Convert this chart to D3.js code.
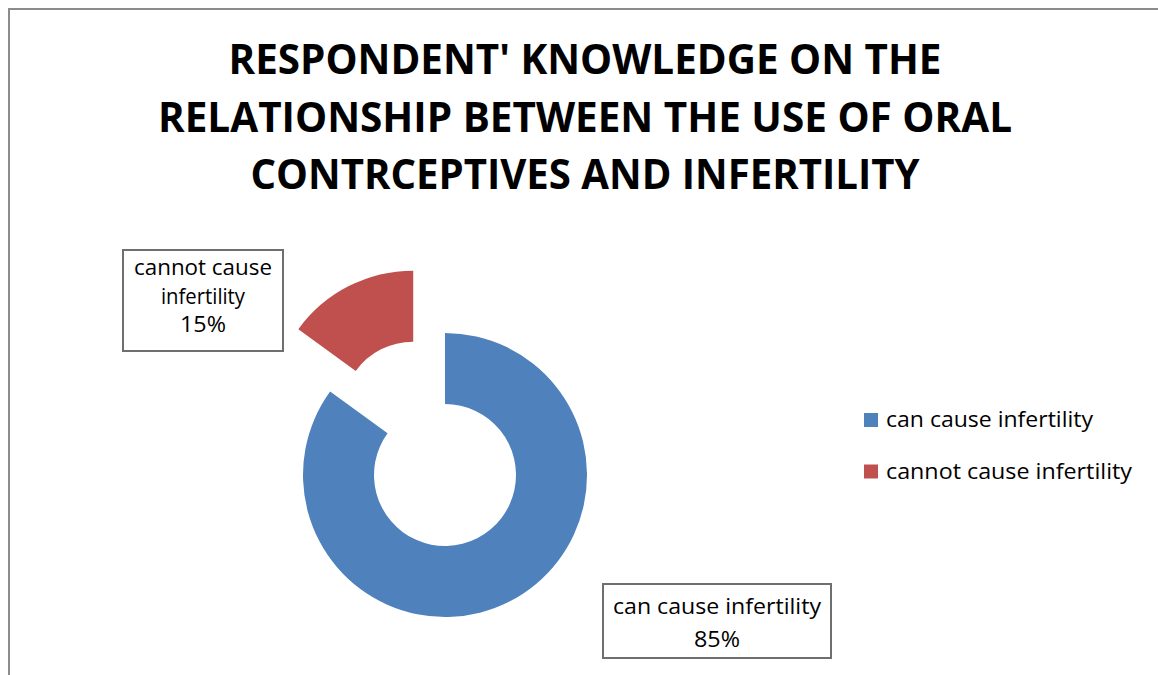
<!DOCTYPE html>
<html>
<head>
  <meta charset="utf-8">
  <script src="https://d3js.org/d3.v7.min.js"></script>
  <style>
    body { margin: 0; background: #fff; }
    text { font-family: "Open Sans", sans-serif; fill: #000; }
  </style>
</head>
<body>
<script>
// chart data
var categories = ["can cause infertility", "cannot cause infertility"];
var values = [85, 15];
var colors = ["#4F81BD", "#C0504D"];
var titleLines = ["RESPONDENT' KNOWLEDGE ON THE",
                  "RELATIONSHIP BETWEEN THE USE OF ORAL",
                  "CONTRCEPTIVES AND INFERTILITY"];
// how the data labels wrap
var labelLines = [["can cause infertility", "85%"],
                  ["cannot cause", "infertility", "15%"]];

var width = 1158, height = 675;

var svg = d3.select("body").append("svg")
    .attr("width", width)
    .attr("height", height);

// chart frame (runs off the right and bottom edge)
svg.append("rect")
    .attr("x", 9).attr("y", 9)
    .attr("width", 1300).attr("height", 800)
    .style("fill", "none")
    .style("stroke", "#8c8c8c")
    .style("stroke-width", 2);

// title
var titleWidths = [713, 854, 669];
svg.selectAll(".title")
    .data(titleLines)
    .enter().append("text")
    .attr("class", "title")
    .attr("x", 585)
    .attr("y", function (d, i) { return 74 + i * 57.5; })
    .attr("text-anchor", "middle")
    .attr("textLength", function (d, i) { return titleWidths[i]; })
    .attr("lengthAdjust", "spacingAndGlyphs")
    .style("font-size", "41px")
    .style("font-weight", 700)
    .text(function (d) { return d; });

// doughnut
var cx = 445, cy = 475, outer = 142, inner = 71, explode = 70;

var pie = d3.pie().sort(null).value(function (d) { return d; });
var arc = d3.arc().innerRadius(inner).outerRadius(outer);
var arcs = pie(values);

var g = svg.append("g").attr("transform", "translate(" + cx + "," + cy + ")");
g.selectAll("path")
    .data(arcs)
    .enter().append("path")
    .attr("d", arc)
    .attr("transform", function (d, i) {
      if (i !== 1) return null;
      // pull the small slice out along its mid angle
      var a = (d.startAngle + d.endAngle) / 2;
      return "translate(" + (explode * Math.sin(a)) + "," + (-explode * Math.cos(a)) + ")";
    })
    .style("fill", function (d, i) { return colors[i]; });

// data label boxes
var boxes = [
  {x: 603, y: 584, w: 228, h: 74, y0: 614, dy: 33, widths: [208, 46]},
  {x: 123, y: 250, w: 160, h: 101, y0: 275, dy: 28.5, widths: [138, 84, 46]}
];
boxes.forEach(function (b, i) {
  var lg = svg.append("g");
  lg.append("rect")
      .attr("x", b.x).attr("y", b.y)
      .attr("width", b.w).attr("height", b.h)
      .style("fill", "#fff")
      .style("stroke", "#6f6f6f")
      .style("stroke-width", 2);
  lg.selectAll("text")
      .data(labelLines[i])
      .enter().append("text")
      .attr("x", b.x + b.w / 2)
      .attr("y", function (d, j) { return b.y0 + j * b.dy; })
      .attr("text-anchor", "middle")
      .attr("textLength", function (d, j) { return b.widths[j]; })
      .attr("lengthAdjust", "spacingAndGlyphs")
      .style("font-size", "21px")
      .text(function (d) { return d; });
});

// legend
var legend = svg.selectAll(".legend")
    .data(categories)
    .enter().append("g")
    .attr("class", "legend")
    .attr("transform", function (d, i) { return "translate(864," + (413 + i * 51.5) + ")"; });
legend.append("rect")
    .attr("width", 14).attr("height", 14)
    .style("fill", function (d, i) { return colors[i]; });
legend.append("text")
    .attr("x", 22).attr("y", 14)
    .attr("textLength", function (d, i) { return i === 0 ? 207 : 246; })
    .attr("lengthAdjust", "spacingAndGlyphs")
    .style("font-size", "21px")
    .text(function (d) { return d; });
</script>
</body>
</html>
